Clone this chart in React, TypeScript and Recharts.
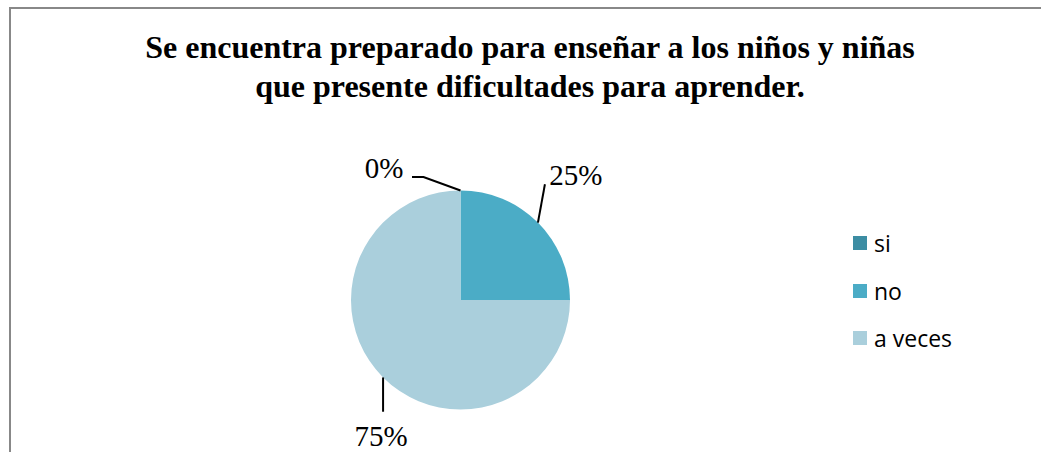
import React from 'react';
import { PieChart, Pie, Cell, Legend } from 'recharts';

const categories = ['si', 'no', 'a veces'];
const values = [0, 25, 75];
const percentLabels = ['0%', '25%', '75%'];
const colors = ['#3C8DA3', '#4BACC6', '#AACFDC'];

const titleLines = [
  'Se encuentra preparado para enseñar a los niños y niñas',
  'que presente dificultades para aprender.',
];

const data = categories.map((name, i) => ({ name, value: values[i] }));

const RADIAN = Math.PI / 180;
const serif = '"Liberation Serif", "Times New Roman", serif';

// leader line bends and text spot, relative to the point on the rim
const leaders = [
  { pts: [[-37, -13.5], [-48.5, -13.5]], text: [-57, -12.5], anchor: 'end' },
  { pts: [[7, -38.3]], text: [11.4, -37.6], anchor: 'start' },
  { pts: [[0, 34.3]], text: [-2, 68.6], anchor: 'middle' },
];

const renderLabel = (props: any) => {
  const { cx, cy, midAngle, outerRadius, index } = props;
  const ax = cx + outerRadius * Math.cos(-midAngle * RADIAN);
  const ay = cy + outerRadius * Math.sin(-midAngle * RADIAN);
  const l = leaders[index];
  const path = [[0, 0], ...l.pts]
    .map((p, i) => `${i === 0 ? 'M' : 'L'}${ax + p[0]},${ay + p[1]}`)
    .join(' ');
  return (
    <g key={`lbl-${index}`}>
      <path d={path} stroke="#000" strokeWidth={2} fill="none" />
      <text
        x={ax + l.text[0]}
        y={ay + l.text[1]}
        textAnchor={l.anchor}
        fontFamily={serif}
        fontSize={29}
        fill="#000"
      >
        {percentLabels[index]}
      </text>
    </g>
  );
};

const renderLegend = () => (
  <div style={{ fontFamily: '"Open Sans", sans-serif', fontSize: 23, color: '#000' }}>
    {categories.map((c, i) => (
      <div key={c} style={{ display: 'flex', alignItems: 'center', height: 47.5 }}>
        <span
          style={{
            display: 'inline-block',
            width: 14,
            height: 14,
            background: colors[i],
            marginRight: 7,
          }}
        />
        <span style={{ lineHeight: '24px' }}>{c}</span>
      </div>
    ))}
  </div>
);

export default function App() {
  return (
    <div
      style={{
        position: 'fixed',
        left: 0,
        top: 0,
        width: 1041,
        height: 452,
        overflow: 'hidden',
        background: '#fff',
      }}
    >
      <div
        style={{
          position: 'absolute',
          left: 9,
          top: 7,
          width: 1200,
          height: 600,
          border: '2px solid #888',
        }}
      />
      <div
        style={{
          position: 'absolute',
          left: 30,
          top: 28,
          width: 1000,
          textAlign: 'center',
          fontFamily: serif,
          fontWeight: 'bold',
          fontSize: 32,
          lineHeight: '39px',
        }}
      >
        {titleLines.map((t) => (
          <div key={t}>{t}</div>
        ))}
      </div>
      <div style={{ position: 'absolute', left: 0, top: 0 }}>
        <PieChart width={1041} height={452} margin={{ top: 0, right: 0, bottom: 0, left: 0 }}>
          <Pie
            data={data}
            dataKey="value"
            nameKey="name"
            cx={460.5}
            cy={300}
            outerRadius={109.5}
            startAngle={90}
            endAngle={-270}
            stroke="none"
            label={renderLabel}
            labelLine={false}
            isAnimationActive={false}
          >
            {data.map((d, i) => (
              <Cell key={d.name} fill={colors[i]} />
            ))}
          </Pie>
          <Legend
            layout="vertical"
            align="right"
            verticalAlign="top"
            content={renderLegend}
            wrapperStyle={{ left: 853, top: 219.5, width: 150 }}
          />
        </PieChart>
      </div>
    </div>
  );
}
